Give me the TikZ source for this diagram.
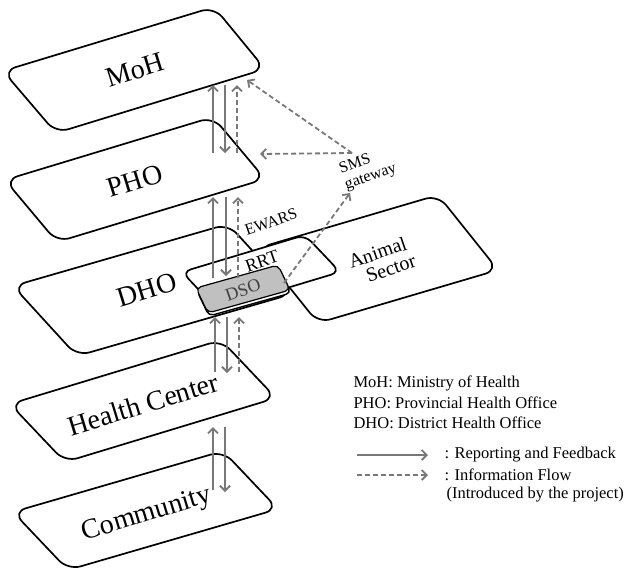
\documentclass[tikz,border=0pt]{standalone}
\usepackage{fontspec}
\setmainfont{Liberation Serif}
\usetikzlibrary{arrows.meta}
\definecolor{flowgray}{RGB}{120,120,120}
\definecolor{dsogray}{RGB}{192,192,192}
\def\fsz#1#2{\fontsize{#1}{#2}\selectfont}

\tikzset{
  layer/.style={draw=black, line width=1.7pt, fill=white, rounded corners=13pt},
  rep/.style={draw=flowgray, line width=1.8pt, -{Straight Barb[length=5pt,width=10pt]}},
  info/.style={rep, dash pattern=on 5pt off 3pt},
  lvl/.style={rotate=17, font=\fsz{28}{30}},
  tag/.style={rotate=19, font=\fsz{#1}{#1}},
  legend/.style={anchor=west, font=\fsz{16.5}{18}},
}

\begin{document}
\begin{tikzpicture}[x=1pt,y=-1pt]
			\useasboundingbox (0,0) rectangle (624,574);
			%%%%% LAYERS %%%%%
			
			\draw[layer] (3,71) -- (214,7) -- (265,69) -- (56,133) -- cycle;
			\draw[layer] (5,180) -- (213,117) -- (265,179) -- (57,242) -- cycle;
			
			\draw[layer] (258,248) -- (438,195) -- (498,270) -- (318,323) -- cycle;
			\draw[layer] (13,286) -- (228,224) -- (292,294) -- (77,356) -- cycle;
			\draw[layer, rounded corners=9pt] (182,272) -- (305,235) -- (340,272) -- (217,309) -- cycle;
			
			\draw[black, line width=1.4pt, fill=white, rounded corners=5pt] (197,291) -- (279,268) -- (291,293) -- (209,316) -- cycle;
			\draw[black, line width=1.2pt, fill=dsogray, rounded corners=5pt] (196,288) -- (278,265) -- (290,290) -- (208,313) -- cycle;
			
			\draw[layer] (10,404) -- (221,340) -- (276,398) -- (65,462) -- cycle;
			\draw[layer] (13,512) -- (223,451) -- (278,509) -- (68,570) -- cycle;
			
			%%%%% LABELS %%%%%
			
			\node[lvl] (moh) at (135,70) {MoH};
			\node[lvl] (pho) at (135,181) {PHO};
			\node[lvl] (dho) at (147,290) {DHO};
			\node[lvl] (hc) at (143,404) {Health Center};
			\node[lvl] (com) at (147,515) {Community};
			
			\node[tag=16] (ewars) at (271,222) {EWARS};
			\node[tag=18] (rrt) at (262,261) {RRT};
			\node[tag=18, text=black!75] (dso) at (243,290) {DSO};
			\node[tag=20, align=left, inner sep=0pt, font=\fsz{20}{19}] (animal) at (382,261) {Animal\\\hspace*{0.6em}Sector};
			\node[tag=16, align=left, inner sep=0pt, font=\fsz{16}{17}] (sms) at (368,169) {SMS\\gateway};
			
			%%%%% FLOWS %%%%%
			
			\coordinate (moh-s1) at (213,85);  \coordinate (pho-n1) at (213,153);
			\coordinate (moh-s2) at (225,85);  \coordinate (pho-n2) at (225,153);
			\coordinate (moh-s3) at (237,85);  \coordinate (pho-n3) at (237,153);
			
			\coordinate (pho-s1) at (213,197); \coordinate (dho-n1) at (213,278);
			\coordinate (pho-s2) at (226,197); \coordinate (dho-n2) at (226,276);
			\coordinate (pho-s3) at (238,197); \coordinate (dho-n3) at (238,278);
			
			\coordinate (dho-s1) at (215,317); \coordinate (hc-n1) at (215,372);
			\coordinate (dho-s2) at (227,317); \coordinate (hc-n2) at (227,373);
			\coordinate (dho-s3) at (239,317); \coordinate (hc-n3) at (239,372);
			
			\coordinate (hc-s1) at (213,427);  \coordinate (com-n1) at (213,490);
			\coordinate (hc-s2) at (225,427);  \coordinate (com-n2) at (225,492);
			
			\draw[rep] (pho-n1) -- (moh-s1);
			\draw[rep] (moh-s2) -- (pho-n2);
			\draw[info] (pho-n3) -- (moh-s3);
			
			\draw[rep] (dho-n1) -- (pho-s1);
			\draw[rep] (pho-s2) -- (dho-n2);
			\draw[info] (dho-n3) -- (pho-s3);
			
			\draw[rep] (hc-n1) -- (dho-s1);
			\draw[rep] (dho-s2) -- (hc-n2);
			\draw[info] (hc-n3) -- (dho-s3);
			
			\draw[rep] (com-n1) -- (hc-s1);
			\draw[rep] (hc-s2) -- (com-n2);
			
			% sms gateway
			\coordinate (gw-in) at (352,153);
			\coordinate (gw-out) at (350,193);
			\coordinate (moh-e) at (247,80);
			\coordinate (pho-e) at (260,154);
			\coordinate (dso-e) at (284,283);
			\draw[info] (gw-in) -- (moh-e);
			\draw[info] (gw-in) -- (pho-e);
			\draw[info] (dso-e) -- (gw-out);
			
			%%%%% LEGEND %%%%%
			
			\node[legend] (k1) at (350,383) {MoH: Ministry of Health};
			\node[legend] (k2) at (350,403) {PHO: Provincial Health Office};
			\node[legend] (k3) at (350,423) {DHO: District Health Office};
			
			\coordinate (leg1a) at (357,455); \coordinate (leg1b) at (428,455);
			\coordinate (leg2a) at (357,475); \coordinate (leg2b) at (428,475);
			\draw[rep] (leg1a) -- (leg1b);
			\draw[info] (leg2a) -- (leg2b);
			\node[legend] (k4) at (441,455) {: Reporting and Feedback};
			\node[legend] (k5) at (441,475) {: Information Flow};
			\node[legend] (k6) at (443,495) {(Introduced by the project)};
			
\end{tikzpicture}
\end{document}
